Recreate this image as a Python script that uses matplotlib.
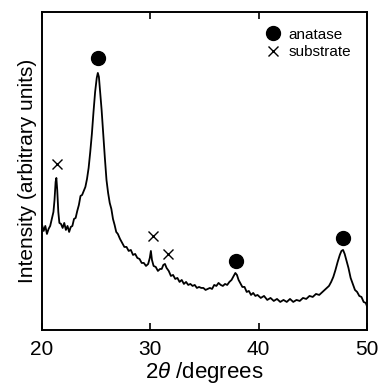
import matplotlib
matplotlib.use('Agg')
import matplotlib.pyplot as plt

plt.rcParams['font.family'] = ['Liberation Sans', 'DejaVu Sans']
plt.rcParams['mathtext.fontset'] = 'custom'
plt.rcParams['mathtext.rm'] = 'Liberation Sans'
plt.rcParams['mathtext.it'] = 'Liberation Sans:italic'

# XRD pattern (2theta, intensity in arbitrary units)
two_theta = [20.0, 20.15, 20.3, 20.45, 20.6, 20.75, 20.9, 21.05, 21.15, 21.25, 21.32, 21.4, 21.5, 21.6,
             21.75, 21.9, 22.05, 22.2, 22.35, 22.5, 22.65, 22.8, 22.95, 23.1, 23.25, 23.4, 23.55, 23.7,
             23.85, 24.0, 24.15, 24.3, 24.45, 24.6, 24.75, 24.9, 25.05, 25.15, 25.25, 25.35, 25.5, 25.65,
             25.8, 25.95, 26.1, 26.25, 26.4, 26.55, 26.7, 26.85, 27.0, 27.2, 27.4, 27.6, 27.8, 28.0, 28.2,
             28.4, 28.6, 28.8, 29.0, 29.2, 29.4, 29.6, 29.8, 29.95, 30.05, 30.15, 30.3, 30.5, 30.7, 30.9,
             31.05, 31.2, 31.35, 31.5, 31.7, 31.9, 32.1, 32.3, 32.5, 32.7, 32.9, 33.1, 33.3, 33.5, 33.7,
             33.9, 34.1, 34.3, 34.5, 34.7, 34.9, 35.1, 35.3, 35.5, 35.7, 35.9, 36.1, 36.3, 36.5, 36.7,
             36.9, 37.1, 37.3, 37.5, 37.7, 37.85, 38.0, 38.15, 38.3, 38.5, 38.7, 38.9, 39.1, 39.3, 39.5,
             39.7, 39.9, 40.2, 40.5, 40.8, 41.1, 41.4, 41.7, 42.0, 42.3, 42.6, 42.9, 43.2, 43.5, 43.8,
             44.1, 44.4, 44.7, 45.0, 45.3, 45.6, 45.9, 46.2, 46.5, 46.7, 46.9, 47.1, 47.3, 47.5, 47.65,
             47.8, 47.95, 48.1, 48.3, 48.5, 48.7, 48.9, 49.1, 49.3, 49.5, 49.7, 49.9, 50.0]
intensity = [105, 99, 104, 96, 101, 104, 111, 118, 130, 148, 152, 140, 118, 107,
             106, 102, 107, 100, 104, 98, 103, 104, 111, 112, 119, 125, 134, 135,
             139, 143, 151, 162, 178, 196, 218, 238, 252, 257, 253, 240, 220, 196,
             172, 150, 137, 127, 121, 111, 105, 98, 96, 91, 87, 83, 83, 79, 80,
             75, 76, 72, 71, 67, 67, 64, 66, 72, 79, 70, 64, 63, 59, 61,
             61, 65, 66, 62, 59, 54, 55, 51, 52, 48, 50, 46, 48, 45, 46,
             44, 45, 42, 43, 42, 42, 40, 41, 42, 41, 45, 44, 47, 45, 44,
             46, 45, 48, 50, 54, 57, 55, 50, 47, 43, 43, 38, 39, 35, 37,
             34, 35, 32, 34, 30, 32, 29, 31, 28, 30, 28, 31, 28, 30, 29,
             32, 31, 34, 33, 36, 35, 38, 41, 44, 48, 53, 60, 68, 75, 79,
             80, 76, 70, 62, 52, 46, 40, 38, 34, 33, 28, 27, 24]

# peak labels
anatase_x = [25.2, 37.9, 47.8]
anatase_y = [272, 69, 92]
substrate_x = [21.4, 30.2, 31.6]
substrate_y = [166, 94, 76]

fig = plt.figure(figsize=(3.79, 3.85), dpi=100)
ax = fig.add_axes([0.111, 0.143, 0.857, 0.826])

ax.plot(two_theta, intensity, color='black', lw=1.3)
ax.plot(anatase_x, anatase_y, 'o', color='black', ms=10, label='anatase')
ax.plot(substrate_x, substrate_y, 'x', color='black', ms=7, mew=1.0, label='substrate')

ax.set_xlim(20, 50)
ax.set_ylim(0, 318)
ax.set_xticks([20, 30, 40, 50])
ax.set_yticks([])
ax.tick_params(axis='x', direction='in', length=5, width=1.2, top=True, labelsize=15, pad=7)
for s in ax.spines.values():
    s.set_linewidth(1.4)

ax.set_xlabel(r'$2\mathit{\theta}$ /degrees', fontsize=16, labelpad=1)
ax.set_ylabel('Intensity (arbitrary units)', fontsize=15, labelpad=4)

ax.legend(loc='upper right', bbox_to_anchor=(0.952, 0.95), frameon=False, fontsize=11,
          handletextpad=0.5, labelspacing=0.2, borderpad=0, borderaxespad=0, handlelength=1.1)

fig.savefig('out.png', dpi=100)
